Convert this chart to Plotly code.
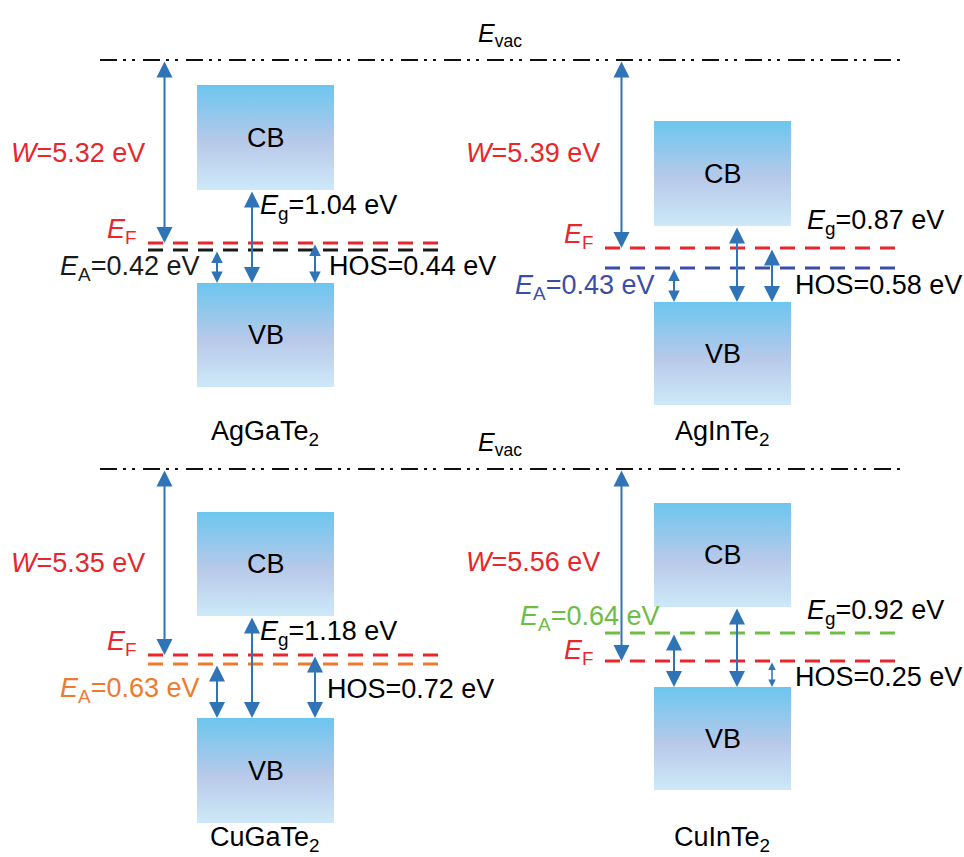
import plotly.graph_objects as go

# ---------------- data ----------------
compounds = ["AgGaTe<sub>2</sub>", "AgInTe<sub>2</sub>", "CuGaTe<sub>2</sub>", "CuInTe<sub>2</sub>"]
W_vals = [5.32, 5.39, 5.35, 5.56]          # work function (eV)
Eg_vals = [1.04, 0.87, 1.18, 0.92]         # band gap (eV)
EA_vals = [0.42, 0.43, 0.63, 0.64]         # acceptor level (eV)
HOS_vals = [0.44, 0.58, 0.72, 0.25]        # hole offset (eV)
ea_colors = ["#1a1a1a", "#3b4ea6", "#f07a2c", "#6dbd45"]

# schematic level depths (diagram units below panel top)
vac_lvl = [60, 60, 60, 60]
cb_top = [85, 121, 103, 94]
cb_bot = [190, 226, 207, 198]
vb_top = [283, 302, 309, 278]
vb_bot = [387, 405, 414, 381]
ef_lvl = [243, 248, 246, 252]
ea_lvl = [250, 268, 255, 224]

# ---------------- layout constants ----------------
PX = [0, 457, 0, 457]
PY = [0, 0, 409, 409]
BOX_X = (197, 334)
LVL_X = (148, 445)
W_X = 164.5
EA_X = 217
EG_X = [252, 280, 252, 280]
HOS_X = 315
NAME_Y = [433, 433, 430, 430]

ARROW = "#2e74b7"
RED = "#e8262b"
FONT = "Liberation Sans, Arial, sans-serif"
FS = 27

fig = go.Figure()
ann = []

def add_arrow(x, y0, y1):
    length = abs(y1 - y0)
    if length < 30:
        width, size = 1.5, 1.0
    elif length < 45:
        width, size = 2, 1.15
    else:
        width, size = 2, 1.6
    ann.append(dict(x=x, y=y1, ax=x, ay=y0, xref="x", yref="y", axref="x", ayref="y",
                    text="", showarrow=True, arrowhead=2, startarrowhead=2,
                    arrowside="end+start", arrowsize=size, startarrowsize=size,
                    arrowwidth=width, arrowcolor=ARROW, standoff=0, startstandoff=0))

def add_text(x, y, text, color="black", xanchor="left", size=FS):
    ann.append(dict(x=x, y=y, xref="x", yref="y", text=text, showarrow=False,
                    xanchor=xanchor, yanchor="middle",
                    font=dict(family=FONT, size=size, color=color)))

# vacuum lines (one per row)
for row_y in [PY[0], PY[2]]:
    fig.add_trace(go.Scatter(x=[100, 902], y=[row_y + vac_lvl[0]] * 2, mode="lines",
                             line=dict(color="#111111", width=2,
                                       dash="17px,6px,3px,6px,3px,8px"),
                             hoverinfo="skip", showlegend=False))
    add_text(476, row_y + 35, "<i>E</i><sub>vac</sub>", xanchor="left", size=25)

grad = [[0, "#6cc6ef"], [0.55, "#b8c9e9"], [1, "#cde9f8"]]

for i in range(4):
    ox, oy = PX[i], PY[i]
    # bands
    for top, bot, lab in [(cb_top[i], cb_bot[i], "CB"), (vb_top[i], vb_bot[i], "VB")]:
        x0, x1 = ox + BOX_X[0], ox + BOX_X[1]
        y0, y1 = oy + top, oy + bot
        fig.add_trace(go.Scatter(x=[x0, x1, x1, x0, x0], y=[y0, y0, y1, y1, y0],
                                 mode="lines", fill="toself", line=dict(width=0),
                                 fillgradient=dict(type="vertical", colorscale=grad,
                                                   start=y0, stop=y1),
                                 hoverinfo="skip", showlegend=False))
        add_text((x0 + x1) / 2, (y0 + y1) / 2, lab, xanchor="center")
    # levels
    fig.add_trace(go.Scatter(x=[ox + LVL_X[0], ox + LVL_X[1]], y=[oy + ea_lvl[i]] * 2,
                             mode="lines", line=dict(color=ea_colors[i], width=3, dash="15px,10px"),
                             hoverinfo="skip", showlegend=False))
    fig.add_trace(go.Scatter(x=[ox + LVL_X[0], ox + LVL_X[1]], y=[oy + ef_lvl[i]] * 2,
                             mode="lines", line=dict(color=RED, width=3, dash="15px,10px"),
                             hoverinfo="skip", showlegend=False))
    # arrows
    add_arrow(ox + W_X, oy + vac_lvl[i], oy + ef_lvl[i])
    add_arrow(ox + EA_X, oy + ea_lvl[i], oy + vb_top[i])
    add_arrow(ox + EG_X[i], oy + cb_bot[i], oy + vb_top[i])
    add_arrow(ox + HOS_X, oy + ef_lvl[i], oy + vb_top[i])
    # compound name
    add_text(ox + 265, oy + NAME_Y[i], compounds[i], xanchor="center")

# labels (positions per panel)
lab_W = [(147, 153), (602, 153), (147, 563), (602, 562)]
lab_EF = [(139, 231), (596, 236), (139, 643), (596, 652)]
lab_Eg = [(258, 207), (805, 222), (258, 633), (805, 612)]
lab_EA = [(201, 268), (656, 287), (201, 690), (661, 618)]
lab_HOS = [(327, 266), (793, 285), (325, 689), (793, 677)]

for i in range(4):
    add_text(*lab_W[i], f"<i>W</i>={W_vals[i]:.2f} eV", color=RED, xanchor="right")
    add_text(*lab_EF[i], "<i>E</i><sub>F</sub>", color=RED, xanchor="right")
    add_text(*lab_Eg[i], f"<i>E</i><sub>g</sub>={Eg_vals[i]:.2f} eV", xanchor="left")
    add_text(*lab_EA[i], f"<i>E</i><sub>A</sub>={EA_vals[i]:.2f} eV",
             color=ea_colors[i], xanchor="right")
    add_text(*lab_HOS[i], f"HOS={HOS_vals[i]:.2f} eV", xanchor="left")

fig.update_layout(
    width=964, height=857, margin=dict(l=0, r=0, t=0, b=0),
    paper_bgcolor="white", plot_bgcolor="white",
    xaxis=dict(range=[0, 964], visible=False, fixedrange=True),
    yaxis=dict(range=[857, 0], visible=False, fixedrange=True),
    annotations=ann, showlegend=False,
    font=dict(family=FONT, size=FS),
)

fig.write_html("out.html")
